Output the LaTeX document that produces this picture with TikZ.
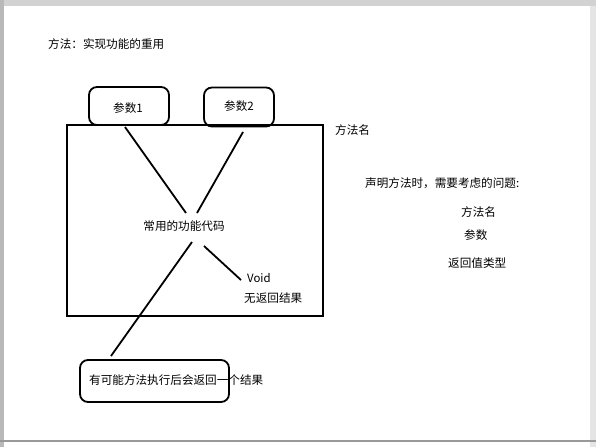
\documentclass[tikz,border=0pt]{standalone}
\usepackage{fontspec}
\newfontfamily\cjk{Noto Sans CJK SC}
\begin{document}
\begin{tikzpicture}[x=1pt,y=-1pt,
  txt/.style={font=\cjk\fontsize{11.6}{13}\selectfont, inner sep=0pt, anchor=center},
  rbox/.style={draw, line width=1.8pt, rounded corners=8pt},
  conn/.style={line width=1.8pt},
  frame/.style={draw, line width=1.2pt}]
\useasboundingbox (0,0) rectangle (596,447);
\fill[white] (0,0) rectangle (596,447);
% window chrome
\fill[gray!35] (0,0) rectangle (596,6);
\fill[gray!55] (0,0) rectangle (4,447);
\fill[gray!20] (590,6) rectangle (596,447);
\draw[gray!80, line width=1.2pt] (0,441) -- (596,441);
% title
\node[txt, anchor=west] (title) at (48,44) {方法：实现功能的重用};
% main rectangle
\node[frame, minimum width=256, minimum height=191, inner sep=0pt] (main) at (195,220.5) {};
\node[txt, anchor=west] (name) at (335,130) {方法名};
% parameter boxes
\node[rbox, minimum width=80, minimum height=38, inner sep=0pt] (p1) at (129,106) {};
\node[txt] (p1t) at (128,108) {参数1};
\node[rbox, minimum width=70, minimum height=39, inner sep=0pt] (p2) at (239,107) {};
\node[txt] (p2t) at (239,106) {参数2};
% centre code
\node[txt] (code) at (184,226) {常用的功能代码};
\node[txt, anchor=west] (void) at (247,278) {\fontsize{11.4}{13}\selectfont Void};
\node[txt, anchor=west] (noret) at (244,298) {无返回结果};
% bottom box
\node[rbox, minimum width=149, minimum height=42, inner sep=0pt] (res) at (154.5,381) {};
\node[txt, anchor=west] (rest) at (89,380) {有可能方法执行后会返回一个结果};
% connector endpoints
\coordinate (a1) at (125,127);
\coordinate (a2) at (186,213);
\coordinate (b1) at (243,132);
\coordinate (b2) at (197,213);
\coordinate (c1) at (204,246);
\coordinate (c2) at (241,280);
\coordinate (d1) at (192,242);
\coordinate (d2) at (111,356);
\draw[conn] (a1) -- (a2);
\draw[conn] (b1) -- (b2);
\draw[conn] (c1) -- (c2);
\draw[conn] (d1) -- (d2);
% right notes
\node[txt, anchor=west] (q) at (365,183) {声明方法时，需要考虑的问题:};
\node[txt, anchor=west] (q1) at (461,212) {方法名};
\node[txt, anchor=west] (q2) at (464,235) {参数};
\node[txt, anchor=west] (q3) at (448,263) {返回值类型};
\end{tikzpicture}
\end{document}
